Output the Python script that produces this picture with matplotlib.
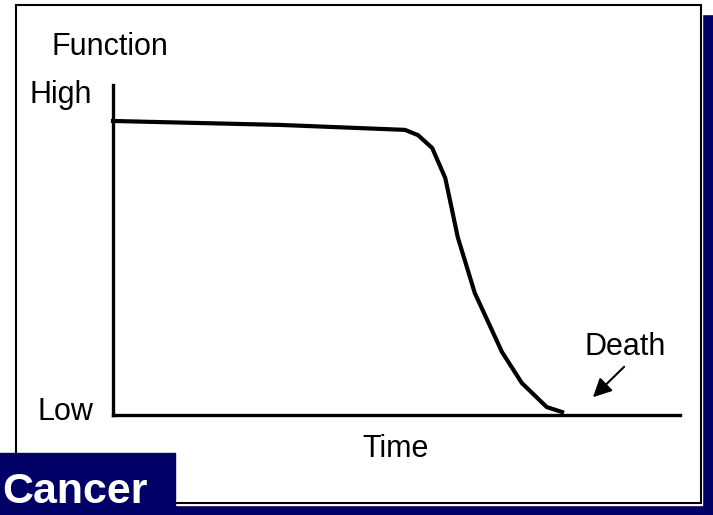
import matplotlib.pyplot as plt
from matplotlib.patches import Rectangle

plt.rcParams['font.family'] = ['Liberation Sans', 'DejaVu Sans']

# function over time (arbitrary units, 0-100 on both axes)
time = [0, 29.5, 51.5, 53.8, 56.3, 58.6, 59.8, 60.8, 63.8, 66.0, 68.6, 72.1, 76.5, 79.2]
function = [89.1, 87.9, 86.4, 84.8, 80.9, 71.8, 62.1, 53.9, 37.0, 28.8, 19.1, 9.7, 2.4, 0.9]

title = 'Cancer'
navy = '#000066'

W, H = 713, 515
fig = plt.figure(figsize=(W / 100, H / 100), dpi=100)

# background / slide decoration in pixel coordinates
bg = fig.add_axes([0, 0, 1, 1])
bg.set_xlim(0, W)
bg.set_ylim(H, 0)
bg.axis('off')
bg.add_patch(Rectangle((0, 0), W, H, color=navy))
bg.add_patch(Rectangle((0, 0), W, 14, color='white'))
bg.add_patch(Rectangle((0, 0), 702, 505, color='white'))
bg.add_patch(Rectangle((16, 5), 685, 498, facecolor='white', edgecolor='black', lw=1.5))
bg.add_patch(Rectangle((0, 453), 175, 62, color=navy))
bg.text(2, 503, title, color='white', fontsize=31, fontweight='bold', va='baseline', ha='left')

bg.text(110, 55, 'Function', fontsize=22, ha='center', va='baseline')
bg.text(30, 103, 'High', fontsize=22, ha='left', va='baseline')
bg.text(37, 420, 'Low', fontsize=22, ha='left', va='baseline')
bg.text(396, 457, 'Time', fontsize=22, ha='center', va='baseline')
bg.text(625, 355, 'Death', fontsize=22, ha='center', va='baseline')

# chart area
ax = fig.add_axes([113 / W, (H - 415) / H, 567 / W, 330 / H])
ax.set_facecolor('none')
ax.set_xlim(0, 100)
ax.set_ylim(0, 100)
for s in ['top', 'right']:
    ax.spines[s].set_visible(False)
for s in ['left', 'bottom']:
    ax.spines[s].set_linewidth(2.4)
ax.set_xticks([])
ax.set_yticks([])

ax.plot(time, function, color='black', lw=3, clip_on=False, solid_joinstyle='round')
ax.annotate('', xy=(84.3, 4.8), xytext=(90.5, 15.2),
            arrowprops=dict(arrowstyle='-|>', color='black', lw=1.5, mutation_scale=28))

fig.savefig('out.png', dpi=100)
